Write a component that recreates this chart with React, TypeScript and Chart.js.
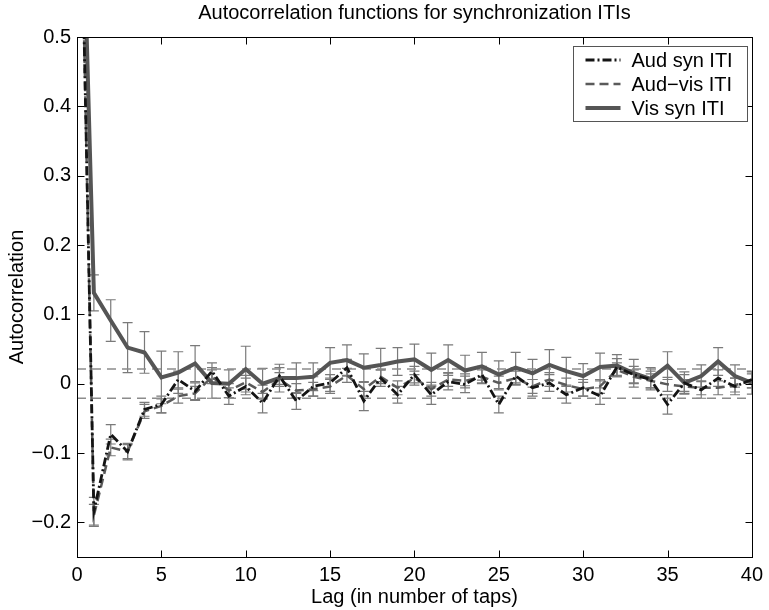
import { useEffect, useRef } from "react";
import { Chart, registerables } from "chart.js";

Chart.register(...registerables);

const lags = [
  0, 1, 2, 3, 4, 5, 6, 7, 8, 9, 10, 11, 12, 13, 14, 15, 16, 17, 18, 19, 20,
  21, 22, 23, 24, 25, 26, 27, 28, 29, 30, 31, 32, 33, 34, 35, 36, 37, 38, 39, 40,
];

const audSyn = [
  1, -0.184, -0.073, -0.098, -0.037, -0.03, 0.006, -0.011, 0.018, -0.018, -0.004,
  -0.028, 0.011, -0.025, -0.004, 0.001, 0.023, -0.025, 0.008, -0.016, 0.013,
  -0.016, 0.003, -0.001, 0.013, -0.03, 0.011, -0.006, 0.001, -0.016, -0.006,
  -0.018, 0.024, 0.013, 0.006, -0.03, 0.001, -0.009, 0.008, -0.004, 0.006,
];
const audSynErr = [
  0, 0.02, 0.014, 0.012, 0.01, 0.012, 0.012, 0.012, 0.012, 0.012, 0.012, 0.014,
  0.012, 0.012, 0.014, 0.012, 0.012, 0.014, 0.012, 0.012, 0.012, 0.014, 0.012,
  0.012, 0.012, 0.012, 0.012, 0.012, 0.012, 0.012, 0.012, 0.012, 0.012, 0.012,
  0.012, 0.014, 0.012, 0.012, 0.012, 0.012, 0.012,
];

const audVis = [
  1, -0.19, -0.092, -0.098, -0.04, -0.032, -0.018, -0.014, 0.01, -0.01, 0.002,
  -0.012, 0.006, -0.01, -0.008, -0.004, 0.012, -0.008, 0.01, -0.006, 0.008,
  -0.008, 0.006, 0.004, 0.01, 0.001, 0.008, -0.004, 0.006, -0.002, -0.008,
  -0.004, 0.02, 0.01, 0.004, -0.001, -0.004, -0.006, -0.006, -0.002, 0.004,
];
const audVisErr = [
  0, 0.016, 0.012, 0.01, 0.01, 0.01, 0.01, 0.01, 0.01, 0.01, 0.01, 0.01, 0.01,
  0.01, 0.01, 0.01, 0.01, 0.01, 0.01, 0.01, 0.01, 0.01, 0.01, 0.01, 0.01, 0.01,
  0.01, 0.01, 0.01, 0.01, 0.01, 0.01, 0.01, 0.01, 0.01, 0.01, 0.01, 0.01, 0.01,
  0.01, 0.01,
];

const visSyn = [
  1, 0.131, 0.091, 0.052, 0.045, 0.009, 0.016, 0.029, 0.001, 0.0, 0.021, 0.0,
  0.008, 0.008, 0.01, 0.03, 0.034, 0.023, 0.027, 0.032, 0.035, 0.02, 0.034,
  0.019, 0.025, 0.013, 0.023, 0.015, 0.027, 0.018, 0.011, 0.024, 0.026, 0.015,
  0.007, 0.026, 0.001, 0.011, 0.032, 0.011, 0.001,
];
const visSynErr = [
  0, 0.026, 0.03, 0.036, 0.03, 0.038, 0.03, 0.026, 0.022, 0.02, 0.033, 0.022,
  0.02, 0.022, 0.02, 0.022, 0.022, 0.02, 0.024, 0.02, 0.022, 0.024, 0.022, 0.022,
  0.02, 0.02, 0.022, 0.02, 0.022, 0.02, 0.018, 0.02, 0.016, 0.02, 0.016, 0.02,
  0.016, 0.016, 0.02, 0.016, 0.016,
];

const confLevel = [0.021, -0.021];
const confLagRange = [0, 40];

const yTicks = [0.5, 0.4, 0.3, 0.2, 0.1, 0, -0.1, -0.2];
const xTicks = [0, 5, 10, 15, 20, 25, 30, 35, 40];

const titleText = "Autocorrelation functions for synchronization ITIs";
const xTitle = "Lag (in number of taps)";
const yTitle = "Autocorrelation";
const seriesNames = ["Aud syn ITI", "Aud\u2212vis ITI", "Vis syn ITI"];

const FONT = "'Liberation Sans', Arial, Helvetica, sans-serif";

const toPoints = (vals: number[]) => lags.map((l, i) => ({ x: l, y: vals[i] }));

const errorSets = [
  { vals: visSyn, err: visSynErr },
  { vals: audVis, err: audVisErr },
  { vals: audSyn, err: audSynErr },
];

const framePlugin = {
  id: "frame",
  beforeDatasetsDraw(chart: any) {
    const { ctx, chartArea: a, scales } = chart;
    const xs = scales.x;
    const ys = scales.y;
    ctx.save();
    ctx.beginPath();
    ctx.rect(a.left, a.top, a.right - a.left, a.bottom - a.top);
    ctx.clip();
    ctx.strokeStyle = "#7a7a7a";
    ctx.lineWidth = 1.2;
    errorSets.forEach((s) => {
      lags.forEach((l, i) => {
        const e = s.err[i];
        if (!e) return;
        const x = xs.getPixelForValue(l);
        const y1 = ys.getPixelForValue(s.vals[i] + e);
        const y2 = ys.getPixelForValue(s.vals[i] - e);
        ctx.beginPath();
        ctx.moveTo(x, y1);
        ctx.lineTo(x, y2);
        ctx.moveTo(x - 5, y1);
        ctx.lineTo(x + 5, y1);
        ctx.moveTo(x - 5, y2);
        ctx.lineTo(x + 5, y2);
        ctx.stroke();
      });
    });
    ctx.restore();
  },
  afterDraw(chart: any) {
    const { ctx, chartArea: a, scales } = chart;
    const xs = scales.x;
    const ys = scales.y;
    ctx.save();
    ctx.strokeStyle = "#000";
    ctx.lineWidth = 1;
    ctx.setLineDash([]);
    const L = Math.round(a.left) + 0.5;
    const R = Math.round(a.right) + 0.5;
    const T = Math.round(a.top) + 0.5;
    const B = Math.round(a.bottom) + 0.5;
    ctx.strokeRect(L, T, R - L, B - T);
    const tl = 7;
    ctx.beginPath();
    xTicks.forEach((v) => {
      const x = Math.round(xs.getPixelForValue(v)) + 0.5;
      ctx.moveTo(x, B);
      ctx.lineTo(x, B - tl);
      ctx.moveTo(x, T);
      ctx.lineTo(x, T + tl);
    });
    yTicks.forEach((v) => {
      const y = Math.round(ys.getPixelForValue(v)) + 0.5;
      ctx.moveTo(L, y);
      ctx.lineTo(L + tl, y);
      ctx.moveTo(R, y);
      ctx.lineTo(R - tl, y);
    });
    ctx.stroke();

    // legend
    const bx = 573.5;
    const by = 46.5;
    const bw = 174;
    const bh = 75;
    ctx.fillStyle = "#fff";
    ctx.fillRect(bx, by, bw, bh);
    ctx.strokeStyle = "#555";
    ctx.strokeRect(bx, by, bw, bh);
    const dsOrder = [0, 1, 2];
    dsOrder.forEach((di, row) => {
      const ds = chart.data.datasets[di];
      const y = by + 13.5 + row * 24;
      ctx.beginPath();
      ctx.strokeStyle = ds.borderColor;
      ctx.lineWidth = ds.borderWidth;
      ctx.setLineDash(ds.borderDash || []);
      ctx.moveTo(bx + 12, y);
      ctx.lineTo(bx + 47, y);
      ctx.stroke();
      ctx.setLineDash([]);
      ctx.fillStyle = "#000";
      ctx.font = `20px ${FONT}`;
      ctx.textBaseline = "middle";
      ctx.textAlign = "left";
      ctx.fillText(seriesNames[row], bx + 58, y + 1);
    });
    ctx.restore();
  },
};

export default function App() {
  const ref = useRef<HTMLCanvasElement | null>(null);
  useEffect(() => {
    document.body.style.margin = "0";
    document.body.style.overflow = "hidden";
    const canvas = ref.current;
    if (!canvas) return;
    const font = { family: FONT, size: 20, weight: "normal" as const };
    const chart = new Chart(canvas, {
      type: "line",
      data: {
        datasets: [
          {
            label: seriesNames[0],
            data: toPoints(audSyn),
            borderColor: "#141414",
            borderWidth: 2.8,
            borderDash: [9, 3, 2, 3],
            pointRadius: 0,
            clip: 0,
          } as any,
          {
            label: seriesNames[1],
            data: toPoints(audVis),
            borderColor: "#5a5a5a",
            borderWidth: 2.5,
            borderDash: [9, 5],
            pointRadius: 0,
            clip: 0,
          },
          {
            label: seriesNames[2],
            data: toPoints(visSyn),
            borderColor: "#555555",
            borderWidth: 4,
            pointRadius: 0,
            clip: 0,
          },
          {
            label: "upper",
            data: confLagRange.map((x) => ({ x, y: confLevel[0] })),
            borderColor: "#8c8c8c",
            borderWidth: 1.5,
            borderDash: [9, 6],
            pointRadius: 0,
            clip: 0,
          },
          {
            label: "lower",
            data: confLagRange.map((x) => ({ x, y: confLevel[1] })),
            borderColor: "#8c8c8c",
            borderWidth: 1.5,
            borderDash: [9, 6],
            pointRadius: 0,
            clip: 0,
          },
        ],
      },
      options: {
        animation: false,
        responsive: false,
        maintainAspectRatio: false,
        layout: { padding: { left: 0, right: 13, top: 0, bottom: 0 } },
        elements: { line: { tension: 0 } },
        plugins: {
          legend: { display: false },
          tooltip: { enabled: false },
          title: {
            display: true,
            fullSize: false,
            text: titleText,
            color: "#000",
            font,
            padding: { top: 1, bottom: 12 },
          },
        },
        scales: {
          x: {
            type: "linear",
            min: 0,
            max: 40,
            afterBuildTicks: (s: any) => {
              s.ticks = xTicks.map((v) => ({ value: v }));
            },
            ticks: { color: "#000", font, padding: 6, maxRotation: 0 },
            grid: { display: false, drawTicks: false },
            border: { display: false },
            title: {
              display: true,
              text: xTitle,
              color: "#000",
              font,
              padding: { top: 0, bottom: 1 },
            },
            afterFit: (s: any) => {
              s.height = 53;
            },
          },
          y: {
            type: "linear",
            min: -0.25,
            max: 0.5,
            afterBuildTicks: (s: any) => {
              s.ticks = yTicks.map((v) => ({ value: v }));
            },
            ticks: {
              color: "#000",
              font,
              padding: 6,
              callback: (v: any) =>
                Number(v) === 0 ? "0" : Number(v).toFixed(1).replace("-", "\u2212"),
            },
            grid: { display: false, drawTicks: false },
            border: { display: false },
            title: {
              display: true,
              text: yTitle,
              color: "#000",
              font,
              padding: { top: 5, bottom: 0 },
            },
            afterFit: (s: any) => {
              s.width = 77;
            },
          },
        },
      },
      plugins: [framePlugin],
    });
    return () => chart.destroy();
  }, []);
  return (
    <div style={{ width: 769, height: 610 }}>
      <canvas ref={ref} width={769} height={610} style={{ display: "block" }} />
    </div>
  );
}
